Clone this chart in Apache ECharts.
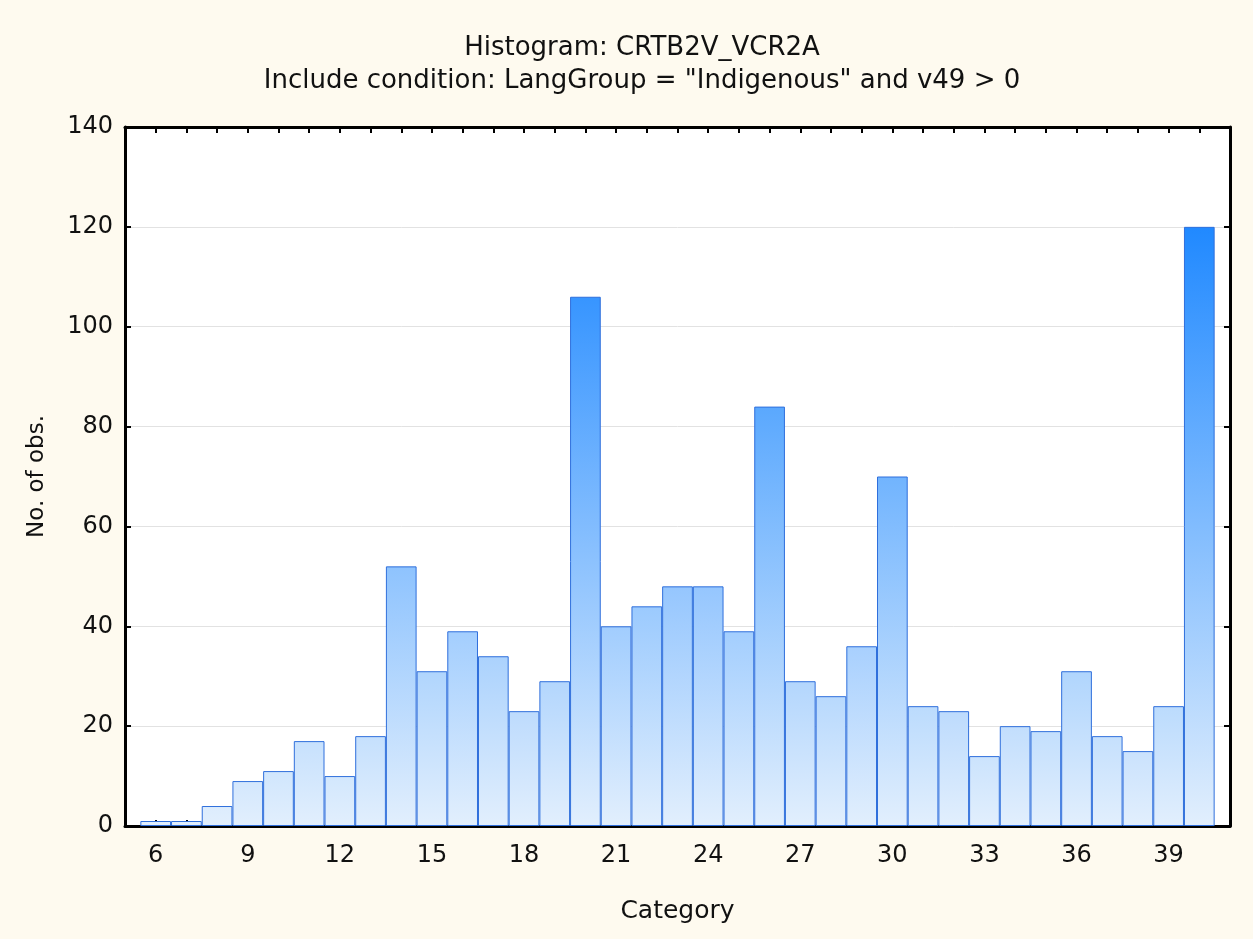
<!DOCTYPE html>
<html>
<head>
<meta charset="utf-8">
<style>
  html, body { margin: 0; padding: 0; background: #fefaef; }
  #main { width: 1253px; height: 939px; }
</style>
<script src="https://cdn.jsdelivr.net/npm/echarts@6/dist/echarts.min.js"></script>
</head>
<body>
<div id="main"></div>
<script>
// histogram bins (category value) and counts
var categories = [6, 7, 8, 9, 10, 11, 12, 13, 14, 15, 16, 17, 18, 19, 20, 21, 22, 23,
  24, 25, 26, 27, 28, 29, 30, 31, 32, 33, 34, 35, 36, 37, 38, 39, 40];
var counts = [1, 1, 4, 9, 11, 17, 10, 18, 52, 31, 39, 34, 23, 29, 106, 40, 44, 48,
  48, 39, 84, 29, 26, 36, 70, 24, 23, 14, 20, 19, 31, 18, 15, 24, 120];
var yTicks = [0, 20, 40, 60, 80, 100, 120, 140];
var xLabelStep = 3;

var titleText = 'Histogram: CRTB2V_VCR2A';
var subText = 'Include condition: LangGroup = "Indigenous" and v49 > 0';

var FONT = 'DejaVu Sans';
var yMax = yTicks[yTicks.length - 1];

// colour at a given height, light at the base, saturated blue at the top
function colorAt(v) {
  var lo = [226, 239, 253], hi = [0, 120, 255];
  var t = v / yMax;
  var c = lo.map(function (a, i) { return Math.round(a + (hi[i] - a) * t); });
  return 'rgb(' + c.join(',') + ')';
}

var barData = categories.map(function (c, i) {
  var v = counts[i];
  return {
    value: [c, v],
    itemStyle: {
      color: new echarts.graphic.LinearGradient(0, 0, 0, 1, [
        { offset: 0, color: colorAt(v) },
        { offset: 1, color: colorAt(0) }
      ])
    }
  };
});

var chart = echarts.init(document.getElementById('main'));

var axisLine = { show: true, onZero: false, lineStyle: { color: '#000', width: 3 } };
var tick = { show: true, inside: true, length: 6, lineStyle: { color: '#000', width: 2 } };

chart.setOption({
  backgroundColor: '#fefaef',
  animation: false,
  title: [
    { text: titleText, left: 637, top: 30, textAlign: 'center',
      textStyle: { fontFamily: FONT, fontSize: 26, fontWeight: 'normal', color: '#111' } },
    { text: subText, left: 637, top: 63, textAlign: 'center',
      textStyle: { fontFamily: FONT, fontSize: 26, fontWeight: 'normal', color: '#111' } }
  ],
  grid: {
    left: 125, right: 23, top: 127, bottom: 113,
    show: true, backgroundColor: '#fff', borderWidth: 0
  },
  xAxis: [
    {
      type: 'value', position: 'bottom', min: 5, max: 41, interval: 1,
      name: 'Category', nameLocation: 'middle', nameGap: 73,
      nameTextStyle: { fontFamily: FONT, fontSize: 25, color: '#111' },
      axisLine: axisLine,
      axisTick: tick,
      axisLabel: {
        fontFamily: FONT, fontSize: 24, color: '#111', margin: 18,
        formatter: function (v) { return v % xLabelStep === 0 ? String(v) : ''; }
      },
      splitLine: { show: false }
    },
    {
      type: 'value', position: 'top', min: 5, max: 41, interval: 1,
      axisLine: axisLine,
      axisTick: tick,
      axisLabel: { show: false },
      splitLine: { show: false }
    }
  ],
  yAxis: [
    {
      type: 'value', position: 'left', min: 0, max: yMax, interval: 20,
      name: 'No. of obs.', nameLocation: 'middle', nameGap: 76, nameRotate: 90,
      nameTextStyle: { fontFamily: FONT, fontSize: 23, color: '#111' },
      axisLine: axisLine,
      axisTick: tick,
      axisLabel: { fontFamily: FONT, fontSize: 24, color: '#111', margin: 12 },
      splitLine: { show: true, lineStyle: { color: '#e2e2e2', width: 1 } }
    },
    {
      type: 'value', position: 'right', min: 0, max: yMax, interval: 20,
      axisLine: axisLine,
      axisTick: tick,
      axisLabel: { show: false },
      splitLine: { show: false }
    }
  ],
  series: [{
    type: 'bar',
    xAxisIndex: 0,
    yAxisIndex: 0,
    barWidth: '100%',
    data: barData,
    itemStyle: { borderColor: '#2f6fdc', borderWidth: 1 }
  }]
});
</script>
</body>
</html>
